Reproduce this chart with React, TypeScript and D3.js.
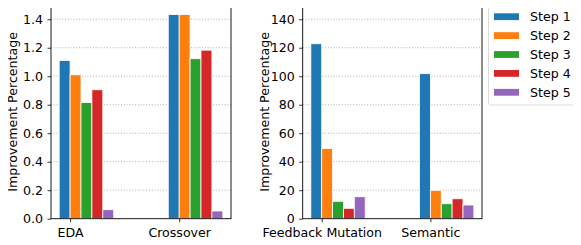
import React, { useRef, useEffect } from "react";
import * as d3 from "d3";

const steps = ["Step 1", "Step 2", "Step 3", "Step 4", "Step 5"];
const colors = ["#1f77b4", "#ff7f0e", "#2ca02c", "#d62728", "#9467bd"];

const leftCats = ["EDA", "Crossover"];
const leftVals = [
  [1.11, 1.01, 0.815, 0.905, 0.063],
  [1.433, 1.433, 1.123, 1.183, 0.054],
];
const leftTicks = [0, 0.2, 0.4, 0.6, 0.8, 1.0, 1.2, 1.4];

const rightCats = ["Feedback Mutation", "Semantic"];
const rightVals = [
  [122.8, 49.3, 12.2, 7.3, 15.4],
  [101.8, 19.9, 10.5, 14, 9.6],
];
const rightTicks = [0, 20, 40, 60, 80, 100, 120, 140];

const FONT = "DejaVu Sans, sans-serif";
const FS = 12.6;

function App() {
  const svgRef = useRef<SVGSVGElement>(null);

  useEffect(() => {
    const svg = d3.select(svgRef.current);
    svg.selectAll("*").remove();
    svg.attr("width", 581).attr("height", 245).style("display", "block");

    const top = 5;
    const bottom = 218.7;
    const barW = 0.1;

    function panel(
      left: number,
      right: number,
      cats: string[],
      vals: number[][],
      ticks: number[],
      yMax: number,
      fmt: (v: number) => string
    ) {
      const g = svg.append("g");
      const x = d3.scaleLinear().domain([-0.175, 1.475]).range([left, right]);
      const y = d3.scaleLinear().domain([0, yMax]).range([bottom, top]);

      // grid
      g.selectAll(".grid")
        .data(ticks.filter((t) => t > 0))
        .join("line")
        .attr("x1", left)
        .attr("x2", right)
        .attr("y1", (d) => y(d))
        .attr("y2", (d) => y(d))
        .attr("stroke", "#b0b0b0")
        .attr("stroke-width", 1)
        .attr("stroke-dasharray", "1,1.8");

      // bars
      vals.forEach((row, ci) => {
        g.selectAll(".bar" + ci)
          .data(row)
          .join("rect")
          .attr("x", (v, i) => x(ci + (i - 1) * barW))
          .attr("y", (v) => y(v))
          .attr("width", x(barW) - x(0))
          .attr("height", (v) => bottom - y(v))
          .attr("fill", (v, i) => colors[i])
          .attr("stroke", "white")
          .attr("stroke-width", 0.8);
      });

      // y axis
      const yAxis = d3
        .axisLeft(y)
        .tickValues(ticks)
        .tickFormat((d) => fmt(d as number))
        .tickSize(3.5)
        .tickPadding(4.5);
      const ya = g.append("g").attr("transform", `translate(${left},0)`).call(yAxis);
      ya.select(".domain").remove();
      ya.selectAll("text").attr("font-family", FONT).attr("font-size", FS).attr("fill", "black");
      ya.selectAll("line").attr("stroke", "black").attr("stroke-width", 0.8);

      // x axis
      const xAxis = d3
        .axisBottom(x)
        .tickValues([0, 1])
        .tickFormat((d, i) => cats[i])
        .tickSize(3.5)
        .tickPadding(6);
      const xa = g.append("g").attr("transform", `translate(0,${bottom})`).call(xAxis);
      xa.select(".domain").remove();
      xa.selectAll("text").attr("font-family", FONT).attr("font-size", FS).attr("fill", "black");
      xa.selectAll("line").attr("stroke", "black").attr("stroke-width", 0.8);

      // frame
      g.append("rect")
        .attr("x", left)
        .attr("y", top)
        .attr("width", right - left)
        .attr("height", bottom - top)
        .attr("fill", "none")
        .attr("stroke", "black")
        .attr("stroke-width", 0.9);

      // y label
      g.append("text")
        .attr("transform", `translate(${left - 34},${(top + bottom) / 2}) rotate(-90)`)
        .attr("text-anchor", "middle")
        .attr("font-family", FONT)
        .attr("font-size", FS)
        .text("Improvement Percentage");
    }

    panel(51, 231, leftCats, leftVals, leftTicks, 1.5, (v) => v.toFixed(1));
    panel(302.7, 482, rightCats, rightVals, rightTicks, 150, (v) => String(v));

    // legend
    const lg = svg.append("g");
    lg.append("rect")
      .attr("x", 488.5)
      .attr("y", 5.5)
      .attr("width", 87.5)
      .attr("height", 99.5)
      .attr("rx", 3)
      .attr("fill", "white")
      .attr("fill-opacity", 0.8)
      .attr("stroke", "#d0d0d0")
      .attr("stroke-width", 0.8);
    const items = lg
      .selectAll(".item")
      .data(steps)
      .join("g")
      .attr("transform", (d, i) => `translate(0,${13.3 + i * 18.9})`);
    items
      .append("rect")
      .attr("x", 494)
      .attr("y", 0)
      .attr("width", 25)
      .attr("height", 6.8)
      .attr("fill", (d, i) => colors[i]);
    items
      .append("text")
      .attr("x", 530)
      .attr("y", 8)
      .attr("font-family", FONT)
      .attr("font-size", FS)
      .text((d) => d);
  }, []);

  return (
    <div style={{ margin: "-8px" }}>
      <svg ref={svgRef}></svg>
    </div>
  );
}

export default App;
